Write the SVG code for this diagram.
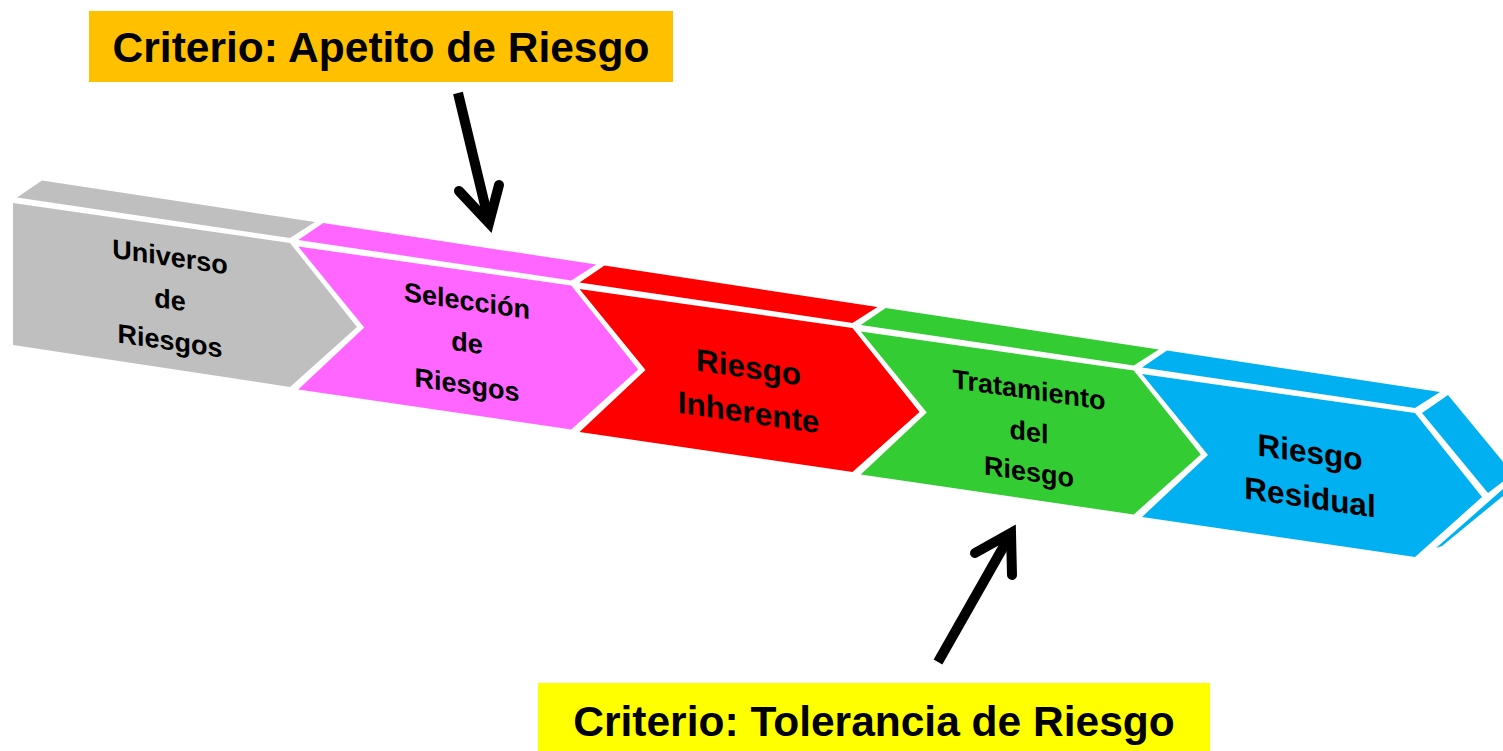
<svg xmlns="http://www.w3.org/2000/svg" width="1503" height="751" viewBox="0 0 1503 751">
<style>
.t{font-family:"Liberation Sans",Arial,sans-serif;font-weight:bold;text-anchor:middle;fill:#000}
.s{font-size:27px}
.l{font-size:31.5px}
.h{font-size:42.5px}
.arr{fill:none;stroke:#000;stroke-width:10}
.grey{fill:#BFBFBF}
.pink{fill:#FF66FF}
.red{fill:#FF0000}
.green{fill:#33CC33}
.blue{fill:#00B0F0}
</style>
<defs>
<polygon id="top" points="17,197.5 42,180.5 315,222 290,238"/>
<polygon id="frontN" points="17,204 290,243 357,327 290,387 17,347 83,285"/>
</defs>
<rect width="1503" height="751" fill="#FFFFFF"/>

<g id="node-universo" class="grey">
<use href="#top"/>
<polygon points="13,203 290,243 357,327 290,387 13,345"/>
<g transform="translate(170,0)">
<text class="t s" transform="translate(0,266) skewY(8.2)">Universo</text>
<text class="t s" transform="translate(0,309) skewY(8.2)">de</text>
<text class="t s" transform="translate(0,350) skewY(8.2)">Riesgos</text>
</g>
</g>

<g id="node-seleccion" class="pink" transform="translate(281.25,42.5)">
<use href="#top"/>
<use href="#frontN"/>
<g transform="translate(185.75,-42.5)">
<text class="t s" transform="translate(0,310) skewY(8.2)">Selección</text>
<text class="t s" transform="translate(0,352) skewY(8.2)">de</text>
<text class="t s" transform="translate(0,394) skewY(8.2)">Riesgos</text>
</g>
</g>

<g id="node-inherente" class="red" transform="translate(562.5,85)">
<use href="#top"/>
<use href="#frontN"/>
<g transform="translate(186,-85)">
<text class="t l" transform="translate(0,378) skewY(8.2)">Riesgo</text>
<text class="t l" transform="translate(0,423) skewY(8.2)">Inherente</text>
</g>
</g>

<g id="node-tratamiento" class="green" transform="translate(843.75,127.5)">
<use href="#top"/>
<use href="#frontN"/>
<g transform="translate(185.25,-127.5)">
<text class="t s" transform="translate(0,399) skewY(8.2)">Tratamiento</text>
<text class="t s" transform="translate(0,441) skewY(8.2)">del</text>
<text class="t s" transform="translate(0,481) skewY(8.2)">Riesgo</text>
</g>
</g>

<g id="node-residual" class="blue">
<g transform="translate(1125,170)">
<use href="#top"/>
<use href="#frontN"/>
<polygon points="297,243 323,225 388,304 363,323"/>
<g transform="translate(185,-170)">
<text class="t l" transform="translate(0,463) skewY(8.2)">Riesgo</text>
<text class="t l" transform="translate(0,508) skewY(8.2)">Residual</text>
</g>
</g>
<polygon points="1436,548 1503,489 1503,496 1442,546"/>
</g>

<g id="node-apetito">
<rect x="89" y="11" width="584" height="71" fill="#FFC000"/>
<text class="t h" x="381" y="62">Criterio: Apetito de Riesgo</text>
</g>

<g id="node-tolerancia">
<rect x="538" y="683" width="672" height="68" fill="#FFFF00"/>
<text class="t h" x="874" y="736">Criterio: Tolerancia de Riesgo</text>
</g>

<g id="connectors">
<g id="arrow-apetito">
<line class="arr" x1="458" y1="93" x2="488.5" y2="220" stroke-linecap="butt"/>
<polyline class="arr" points="459,191 489,223 499,185" stroke-linecap="round" stroke-linejoin="miter" stroke-miterlimit="10"/>
</g>
<g id="arrow-tolerancia">
<line class="arr" x1="938" y1="662" x2="1009" y2="537" stroke-linecap="butt"/>
<polyline class="arr" points="975,553 1011,533 1012,575" stroke-linecap="round" stroke-linejoin="miter" stroke-miterlimit="10"/>
</g>
</g>
</svg>
